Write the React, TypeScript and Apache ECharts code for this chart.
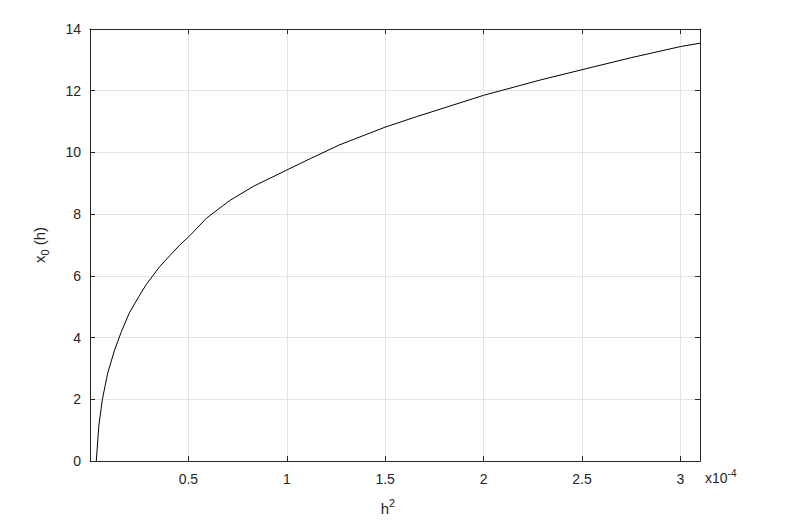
import React, { useEffect, useRef } from "react";
import * as echarts from "echarts";

const h2Values = [0.032, 0.045, 0.063, 0.09, 0.125, 0.16, 0.2, 0.25, 0.286, 0.354, 0.456, 0.507, 0.592, 0.71, 0.83, 1.0, 1.12, 1.27, 1.5, 1.66, 2.0, 2.29, 2.5, 2.75, 3.0, 3.1];
const x0Values = [0.0, 1.15, 2.0, 2.85, 3.6, 4.2, 4.8, 5.35, 5.72, 6.3, 7.0, 7.3, 7.87, 8.44, 8.9, 9.43, 9.8, 10.25, 10.82, 11.16, 11.85, 12.35, 12.68, 13.07, 13.43, 13.54];
const yTicks = [0, 2, 4, 6, 8, 10, 12, 14];

const FONT = "Liberation Sans, Arial, sans-serif";
const AX = "#262626";

export default function App() {
  const ref = useRef<HTMLDivElement>(null);
  useEffect(() => {
    if (!ref.current) return;
    const chart = echarts.init(ref.current, undefined, { renderer: "svg" });
    const data = h2Values.map((x, i) => [x, x0Values[i]]);
    const common = { min: 0, max: 3.1, interval: 0.5 };
    const yCommon = { min: yTicks[0], max: yTicks[yTicks.length - 1], interval: 2 };
    const line = { show: true, onZero: false, lineStyle: { color: AX, width: 1 } };
    const tick = { show: true, inside: true, length: 5, lineStyle: { color: AX } };
    chart.setOption({
      animation: false,
      backgroundColor: "#ffffff",
      grid: { left: 90, right: 88, top: 29, bottom: 64, containLabel: false },
      xAxis: [
        {
          type: "value",
          ...common,
          axisLine: line,
          axisTick: tick,
          axisLabel: {
            color: AX,
            fontSize: 14,
            fontFamily: FONT,
            margin: 11,
            showMinLabel: false,
            showMaxLabel: false,
            formatter: (v: number) => (v === 0 ? "" : String(v)),
          },
          splitLine: { show: true, lineStyle: { color: "#e3e3e3", width: 1 } },
        },
        {
          type: "value",
          position: "top",
          ...common,
          axisLine: line,
          axisTick: tick,
          axisLabel: { show: false },
          splitLine: { show: false },
        },
      ],
      yAxis: [
        {
          type: "value",
          ...yCommon,
          axisLine: line,
          axisTick: tick,
          axisLabel: { color: AX, fontSize: 14, fontFamily: FONT, margin: 9 },
          splitLine: { show: true, lineStyle: { color: "#e3e3e3", width: 1 } },
        },
        {
          type: "value",
          position: "right",
          ...yCommon,
          axisLine: line,
          axisTick: tick,
          axisLabel: { show: false },
          splitLine: { show: false },
        },
      ],
      graphic: [
        {
          type: "text",
          x: 388,
          y: 508,
          style: {
            text: "h{sup|2}",
            fill: AX,
            fontSize: 15,
            fontFamily: FONT,
            align: "center",
            verticalAlign: "middle",
            rich: { sup: { fontSize: 11, verticalAlign: "top", padding: [0, 0, 10, 0], fill: AX, fontFamily: FONT } },
          },
        },
        {
          type: "text",
          x: 39,
          y: 245,
          rotation: Math.PI / 2,
          style: {
            text: "x{sub|0} (h)",
            fill: AX,
            fontSize: 15,
            fontFamily: FONT,
            align: "center",
            verticalAlign: "middle",
            rich: { sub: { fontSize: 11, padding: [12, 0, 0, 0], fill: AX, fontFamily: FONT } },
          },
        },
        {
          type: "text",
          x: 705,
          y: 478,
          style: {
            text: "x10{sup|-4}",
            fill: AX,
            fontSize: 14,
            fontFamily: FONT,
            align: "left",
            verticalAlign: "middle",
            rich: { sup: { fontSize: 10, padding: [0, 0, 10, 0], fill: AX, fontFamily: FONT } },
          },
        },
      ],
      series: [
        {
          type: "line",
          data,
          showSymbol: false,
          symbol: "none",
          lineStyle: { color: "#000000", width: 1 },
          clip: true,
        },
      ],
    });
    return () => chart.dispose();
  }, []);
  return <div ref={ref} style={{ width: 788, height: 525, position: "absolute", left: 0, top: 0 }} />;
}
